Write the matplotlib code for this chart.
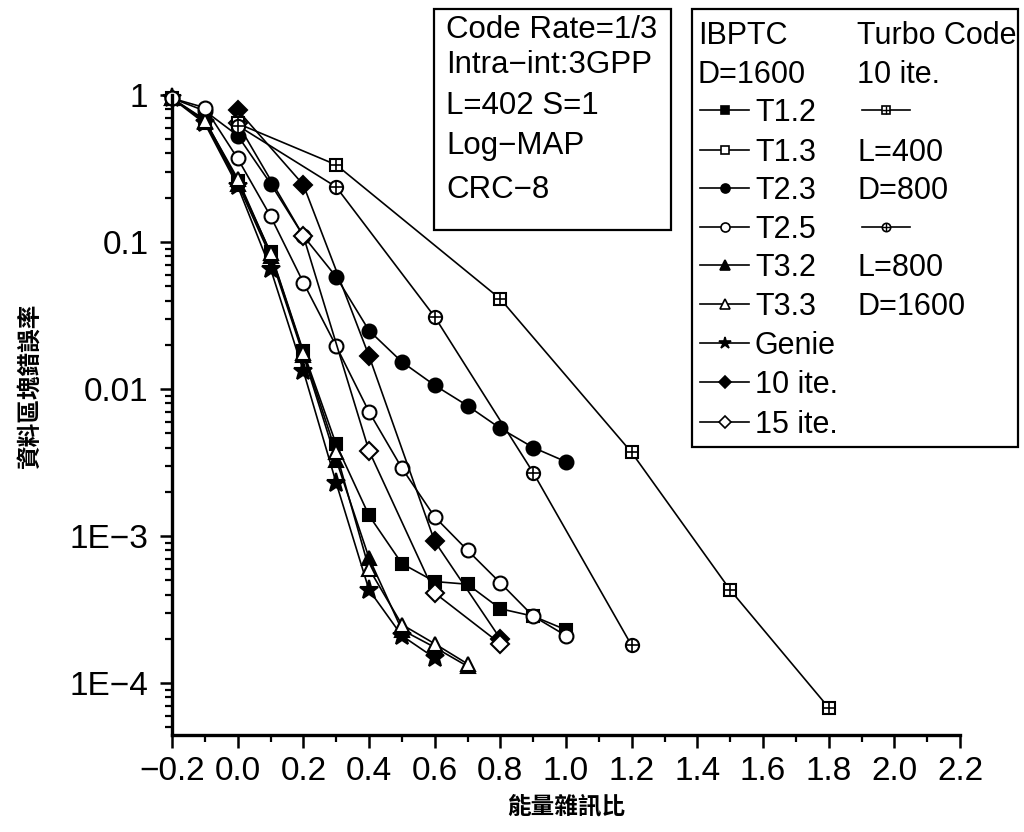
import matplotlib
matplotlib.use('Agg')
import matplotlib.pyplot as plt
from matplotlib.lines import Line2D
from matplotlib.patches import Rectangle
from matplotlib.ticker import LogLocator, NullFormatter, MultipleLocator

LATIN = ['Liberation Sans', 'DejaVu Sans']
CJK = ['Noto Sans CJK TC', 'Noto Sans CJK SC', 'Noto Sans CJK JP', 'DejaVu Sans']
plt.rcParams['font.family'] = LATIN

# ---------------- data ----------------
x_ib = [-0.2, -0.1, 0.0, 0.1, 0.2, 0.3, 0.4, 0.5, 0.6, 0.7, 0.8, 0.9, 1.0]
t12 = [0.95, 0.68, 0.26, 0.085, 0.018, 0.0042, 0.00138, 6.5e-4, 4.9e-4, 4.7e-4, 3.2e-4, 2.85e-4, 2.3e-4]
x_t13 = []
t13 = []
t23 = [0.95, 0.78, 0.53, 0.25, 0.11, 0.058, 0.025, 0.0153, 0.0106, 0.0077, 0.0054, 0.0040, 0.0032]
t25 = [0.95, 0.82, 0.37, 0.15, 0.053, 0.0196, 0.0070, 0.0029, 0.00135, 8.0e-4, 4.8e-4, 2.85e-4, 2.1e-4]
x_t3 = [-0.2, -0.1, 0.0, 0.1, 0.2, 0.3, 0.4, 0.5, 0.6, 0.7]
t32 = [0.95, 0.66, 0.25, 0.08, 0.017, 0.0033, 7.1e-4, 2.3e-4, 1.75e-4, 1.3e-4]
t33 = [0.95, 0.67, 0.27, 0.084, 0.0176, 0.0037, 6.0e-4, 2.5e-4, 1.85e-4, 1.35e-4]
x_genie = [-0.2, -0.1, 0.0, 0.1, 0.2, 0.3, 0.4, 0.5, 0.6]
genie = [0.95, 0.64, 0.24, 0.066, 0.0133, 0.0023, 4.3e-4, 2.1e-4, 1.48e-4]
x_ite = [0.0, 0.2, 0.4, 0.6, 0.8]
ite10 = [0.79, 0.245, 0.0168, 9.2e-4, 2.0e-4]
ite15 = [0.64, 0.11, 0.0038, 4.1e-4, 1.85e-4]
x_tc400 = [0.0, 0.3, 0.8, 1.2, 1.5, 1.8]
tc400 = [0.64, 0.335, 0.041, 0.0037, 4.3e-4, 6.8e-5]
x_tc800 = [0.0, 0.3, 0.6, 0.9, 1.2]
tc800 = [0.62, 0.237, 0.031, 0.0027, 1.8e-4]

x_ticks = [-0.2, 0.0, 0.2, 0.4, 0.6, 0.8, 1.0, 1.2, 1.4, 1.6, 1.8, 2.0, 2.2]
x_tick_labels = ['\u22120.2', '0.0', '0.2', '0.4', '0.6', '0.8', '1.0', '1.2', '1.4', '1.6', '1.8', '2.0', '2.2']
y_ticks = [1, 0.1, 0.01, 1e-3, 1e-4]
y_tick_labels = ['1', '0.1', '0.01', '1E\u22123', '1E\u22124']

info_lines = ['Code Rate=1/3', 'Intra\u2212int:3GPP', 'L=402 S=1', 'Log\u2212MAP', 'CRC\u22128']
xlabel = '能量雜訊比'
ylabel = '資料區塊錯誤率'

# ---------------- figure ----------------
W, H = 1024, 832
fig = plt.figure(figsize=(W / 100, H / 100), dpi=100)
ax = fig.add_axes([172 / W, 1 - 735 / H, (960 - 172) / W, (735 - 95) / H])
ax.set_yscale('log')
ax.set_xlim(-0.2, 2.2)
ax.set_ylim(4.43e-5, 1.0)

LW = 1.2
MEW = 1.5
common = dict(color='black', lw=LW, mew=MEW, mec='black', clip_on=False)

ax.plot(x_ib, t23, marker='o', ms=10, mfc='black', **common)
ax.plot(x_ib, t12, marker='s', ms=9, mfc='black', **common)
ax.plot(x_t13, t13, marker='s', ms=9, mfc='white', **common)
ax.plot(x_t3, t32, marker='^', ms=10.5, mfc='black', **common)
ax.plot(x_genie, genie, marker='*', ms=14, mfc='black', **common)
ax.plot(x_t3, t33, marker='^', ms=10.5, mfc='white', **common)
ax.plot(x_ib, t25, marker='o', ms=10, mfc='white', **common)
ax.plot(x_ite, ite10, marker='D', ms=9.5, mfc='black', **common)
ax.plot(x_ite, ite15, marker='D', ms=9.5, mfc='white', **common)
ax.plot(x_tc400, tc400, marker='s', ms=8.5, mfc='white', **common)
ax.plot(x_tc400, tc400, marker='+', ms=8.5, ls='none', color='black', mew=1.2, clip_on=False)
ax.plot(x_tc800, tc800, marker='o', ms=9.5, mfc='white', **common)
ax.plot(x_tc800, tc800, marker='+', ms=9.5, ls='none', color='black', mew=1.2, clip_on=False)

# axes styling
for s in ['top', 'right']:
    ax.spines[s].set_visible(False)
for s in ['left', 'bottom']:
    ax.spines[s].set_linewidth(2.4)
ax.set_xticks(x_ticks, x_tick_labels)
ax.xaxis.set_minor_locator(MultipleLocator(0.1))
ax.set_yticks(y_ticks, y_tick_labels)
ax.yaxis.set_minor_locator(LogLocator(base=10, subs=range(2, 10), numticks=20))
ax.yaxis.set_minor_formatter(NullFormatter())
ax.tick_params(which='major', direction='out', length=9, width=1.8, labelsize=24, pad=6)
ax.tick_params(which='minor', direction='out', length=5, width=1.6)
ax.tick_params(axis='y', which='major', pad=8)

fig.text(566 / W, 1 - 806 / H, xlabel, ha='center', va='center', fontsize=17,
         family=CJK, fontweight='bold')
fig.text(30 / W, 1 - 386 / H, ylabel, ha='center', va='center', rotation=90, fontsize=17,
         family=CJK, fontweight='bold')

# ---------------- info box ----------------
def fx(px):
    return px / W

def fy(py):
    return 1 - py / H

FS = 22
BOFF = 0.716 * FS * 100 / 72 / 2   # half cap height in px

fig.patches.append(Rectangle((fx(434), fy(230)), fx(671) - fx(434), fy(9) - fy(230),
                             transform=fig.transFigure, fill=False, lw=1.6, ec='black'))
info_y = [27, 62, 103, 143, 187]
for t, yy in zip(info_lines, info_y):
    fig.text(fx(446), fy(yy + BOFF), t, ha='left', va='baseline', fontsize=22.5)

# ---------------- legend box ----------------
fig.patches.append(Rectangle((fx(692), fy(447)), fx(1018) - fx(692), fy(9) - fy(447),
                             transform=fig.transFigure, fill=False, lw=1.6, ec='black'))
row_y = [33, 72, 110, 150, 188, 227, 265, 304, 343, 382, 422]

def handle(xa, xb, yy, marker, ms, mfc, cross=False):
    fig.add_artist(Line2D([fx(xa), fx(xb)], [fy(yy), fy(yy)], transform=fig.transFigure,
                          color='black', lw=LW))
    xm = (xa + xb) / 2
    fig.add_artist(Line2D([fx(xm)], [fy(yy)], transform=fig.transFigure, marker=marker,
                          ms=ms, mfc=mfc, mec='black', mew=1.2, ls='none'))
    if cross:
        fig.add_artist(Line2D([fx(xm)], [fy(yy)], transform=fig.transFigure, marker='+',
                              ms=ms, color='black', mew=1.0, ls='none'))

def txt(px, yy, s):
    fig.text(fx(px), fy(yy + BOFF), s, ha='left', va='baseline', fontsize=FS)

txt(698, row_y[0], 'IBPTC')
txt(698, row_y[1], 'D=1600')
col1 = [('T1.2', 's', 6, 'black'), ('T1.3', 's', 6, 'white'), ('T2.3', 'o', 6.5, 'black'),
        ('T2.5', 'o', 6.5, 'white'), ('T3.2', '^', 7, 'black'), ('T3.3', '^', 7, 'white'),
        ('Genie', '*', 9, 'black'), ('10 ite.', 'D', 6.5, 'black'), ('15 ite.', 'D', 6.5, 'white')]
for (lab, m, ms, fc), yy in zip(col1, row_y[2:]):
    handle(700, 749, yy, m, ms, fc)
    txt(755, yy, lab)

txt(857, row_y[0], 'Turbo Code')
txt(857, row_y[1], '10 ite.')
handle(862, 910, row_y[2], 's', 5.5, 'white', cross=True)
txt(857, row_y[3], 'L=400')
txt(857, row_y[4], 'D=800')
handle(862, 910, row_y[5], 'o', 6, 'white', cross=True)
txt(857, row_y[6], 'L=800')
txt(857, row_y[7], 'D=1600')

fig.savefig('out.png', dpi=100)
